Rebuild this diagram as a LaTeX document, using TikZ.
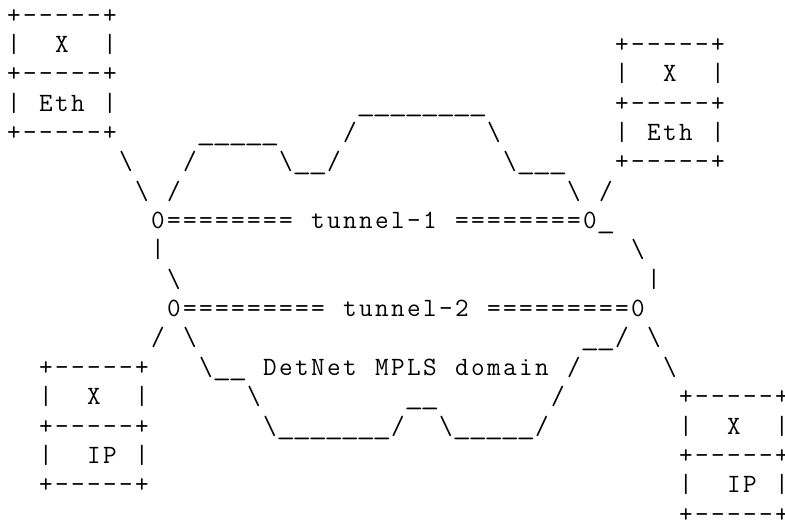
\documentclass[tikz,border=0pt]{standalone}
\usepackage{graphicx}
\usepackage{tikz}
\usetikzlibrary{positioning}
\newlength\cw \setlength\cw{8pt}
\newlength\lh \setlength\lh{14.68pt}
\newcommand\asciifont{\fontfamily{lmtt}\fontseries{m}\fontsize{13.2}{14.68}\selectfont}
\newcommand\bsl{\textbackslash}
\newcommand\us{\scalebox{1.4}[1]{\_}}
\makeatletter
\def\mono@end{\mono@end}
\newcommand\monoline[1]{\monoline@#1\mono@end}
\def\monoline@#1{\ifx\mono@end#1\else\makebox[\cw][c]{#1}\expandafter\monoline@\fi}
\makeatother
% one run of characters, column / row on the character grid
\newcommand\asc[4]{\node[asciirow] (#1) at ({#2*\cw},{-#3*\lh}) {\monoline{#4}};}
% a two-layer box: X over the given layer
\newcommand\stackbox[4]{%
  \foreach \boxline [count=\k from 0] in {+-----+,|~~X~~|,+-----+,#4,+-----+}
    \node[asciirow] (#1-\k) at ({#2*\cw},{-(#3+\k)*\lh}) {\expandafter\monoline\expandafter{\boxline}};}

\begin{document}
\begin{tikzpicture}[
  asciirow/.style={inner sep=0pt,outer sep=0pt,anchor=base west,font=\asciifont},
  ]
  \fill[white] (-3pt,11.5pt) rectangle (389.5pt,-249pt);
  \useasboundingbox (-3pt,11.5pt) rectangle (389.5pt,-249pt);
  % end systems
  \stackbox{ethL}{0}{0}{|~Eth~|}
  \stackbox{ethR}{38}{1}{|~Eth~|}
  \stackbox{ipL}{2}{12}{|~~IP~|}
  \stackbox{ipR}{42}{13}{|~~IP~|}
  % upper edge of the domain
  \asc{top3}{22}{3}{\us\us\us\us\us\us\us\us}
  \asc{top4a}{12}{4}{\us\us\us\us\us}
  \asc{top4b}{21}{4}{/}
  \asc{top4c}{30}{4}{\bsl}
  \asc{linkL5}{7}{5}{\bsl}
  \asc{top5a}{11}{5}{/}
  \asc{top5b}{17}{5}{\bsl\us\us/}
  \asc{top5c}{31}{5}{\bsl\us\us\us}
  \asc{linkL6}{8}{6}{\bsl}
  \asc{top6a}{10}{6}{/}
  \asc{top6b}{35}{6}{\bsl}
  \asc{linkR6}{37}{6}{/}
  % tunnels
  \asc{tunnel1}{9}{7}{0========~tunnel-1~========0\us}
  \asc{side8a}{9}{8}{|}
  \asc{side8b}{39}{8}{\bsl}
  \asc{side9a}{10}{9}{\bsl}
  \asc{side9b}{40}{9}{|}
  \asc{tunnel2}{10}{10}{0=========~tunnel-2~=========0}
  % lower edge of the domain
  \asc{linkL11}{9}{11}{/}
  \asc{bot11a}{11}{11}{\bsl}
  \asc{bot11b}{36}{11}{\us\us/}
  \asc{linkR11}{40}{11}{\bsl}
  \asc{domain}{12}{12}{\bsl\us\us~DetNet~MPLS~domain~/}
  \asc{linkR12}{41}{12}{\bsl}
  \asc{bot13a}{15}{13}{\bsl}
  \asc{bot13b}{25}{13}{\us\us}
  \asc{bot13c}{34}{13}{/}
  \asc{bot14}{16}{14}{\bsl\us\us\us\us\us\us\us/~~\bsl\us\us\us\us\us/}
\end{tikzpicture}
\end{document}
